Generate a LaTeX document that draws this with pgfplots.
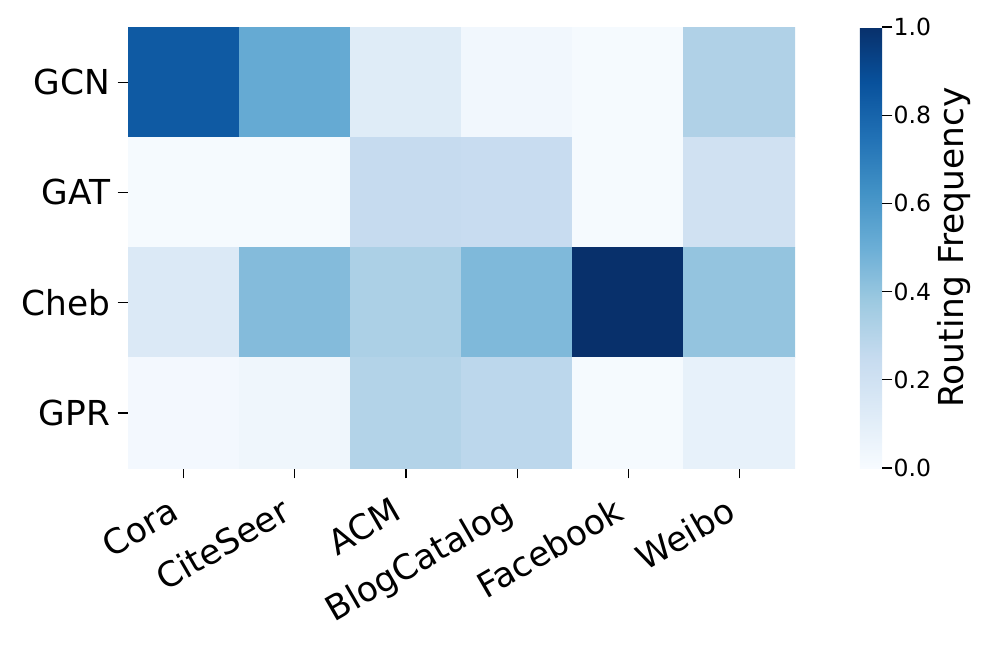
\documentclass[border=0pt]{standalone}
\usepackage{fontspec}
\setmainfont{DejaVu Sans}
\usepackage{pgfplots}
\pgfplotsset{compat=1.18}

% Blues colormap (matplotlib)
\pgfplotsset{
  colormap={blues}{rgb255=(247,251,255) rgb255=(222,235,247) rgb255=(198,219,239)
    rgb255=(158,202,225) rgb255=(107,174,214) rgb255=(66,146,198)
    rgb255=(33,113,181) rgb255=(8,81,156) rgb255=(8,48,107)},
}

\begin{document}
\begin{tikzpicture}
  \begin{axis}[
    at={(0,0)}, anchor=north west,
    scale only axis, width=320.2pt, height=211.7pt,
    xmin=-0.5, xmax=5.5, ymin=-0.5, ymax=3.5, y dir=reverse,
    xtick={0,1,2,3,4,5}, ytick={0,1,2,3},
    xticklabels={Cora,CiteSeer,ACM,BlogCatalog,Facebook,Weibo},
    yticklabels={GCN,GAT,Cheb,GPR},
    xticklabel style={rotate=30, anchor=north east, xshift=-7pt,
      font=\fontsize{16.5}{20}\selectfont},
    yticklabel style={font=\fontsize{16.5}{20}\selectfont},
    tick align=outside, xtick pos=bottom, ytick pos=left,
    major tick length=5pt, tick style={black, line width=0.6pt},
    axis line style={draw=none},
    colormap name=blues,
    point meta min=0, point meta max=1,
    colorbar,
    colorbar style={
      at={(parent axis.north east)}, anchor=north west, xshift=22.6pt,
      width=10.6pt,
      ytick={0,0.2,0.4,0.6,0.8,1},
      yticklabel style={font=\fontsize{11.3}{14}\selectfont, xshift=-3pt,
        /pgf/number format/.cd, fixed, fixed zerofill, precision=1, assume math mode=true},
      ylabel={Routing Frequency},
      ylabel style={font=\fontsize{16.5}{20}\selectfont},
      ylabel shift=-4pt,
      tick align=outside, ytick pos=right,
      major tick length=5pt, tick style={black, line width=0.6pt},
      axis line style={draw=none},
    },
  ]
  \addplot[matrix plot*, mesh/cols=6, point meta=explicit] table[meta=C] {
    x y C
    0 0 0.84
    1 0 0.52
    2 0 0.12
    3 0 0.03
    4 0 0.01
    5 0 0.32
    0 1 0.01
    1 1 0.01
    2 1 0.25
    3 1 0.24
    4 1 0.01
    5 1 0.20
    0 2 0.14
    1 2 0.44
    2 2 0.33
    3 2 0.45
    4 2 1.00
    5 2 0.40
    0 3 0.02
    1 3 0.04
    2 3 0.31
    3 3 0.28
    4 3 0.01
    5 3 0.08
  };
  \end{axis}
  \pgfresetboundingbox
  \path (-61.44pt,12.96pt) rectangle (417.12pt,-297.6pt);
\end{tikzpicture}
\end{document}
